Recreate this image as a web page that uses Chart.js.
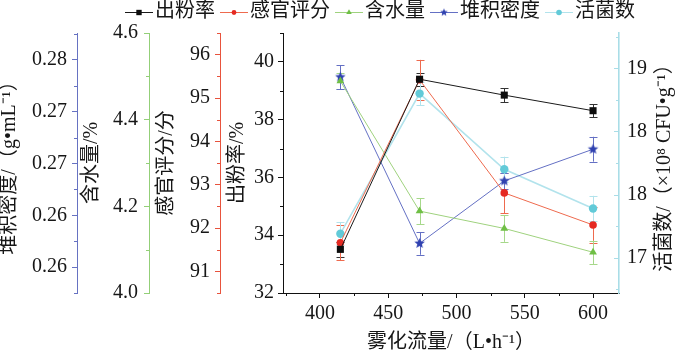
<!DOCTYPE html>
<html><head><meta charset="utf-8">
<script src="https://cdn.jsdelivr.net/npm/chart.js@4/dist/chart.umd.min.js"></script>
<style>html,body{margin:0;padding:0;background:#fff}#wrap{width:677px;height:354px}</style>
</head><body><div id="wrap"><canvas id="c" width="677" height="354"></canvas></div>
<script>
// ---------- data ----------
const flowRates   = [415, 473, 535, 600];
const yieldRate   = [33.51, 39.40, 38.85, 38.31];
const yieldErr    = [0.25, 0.22, 0.24, 0.22];
const sensory     = [91.66, 95.42, 92.81, 92.07];
const sensoryErr  = [0.40, 0.46, 0.47, 0.42];
const moisture    = [4.489, 4.189, 4.149, 4.094];
const moistureErr = [0.018, 0.030, 0.031, 0.027];
const density     = [0.27835, 0.26229, 0.26832, 0.27138];
const densityErr  = [0.00116, 0.0011, 0.0008, 0.0012];
const viable      = [17.69, 18.80, 18.20, 17.89];
const viableErr   = [0.09, 0.09, 0.10, 0.10];

const seriesNames = ['出粉率', '感官评分', '含水量', '堆积密度', '活菌数'];

const xTicks = [400, 450, 500, 550, 600];
const xTickLabels = ['400', '450', '500', '550', '600'];
const yieldTicks = [32, 34, 36, 38, 40];
const yieldTickLabels = ['32', '34', '36', '38', '40'];
const sensoryTicks = [91, 92, 93, 94, 95, 96];
const sensoryTickLabels = ['91', '92', '93', '94', '95', '96'];
const moistureTicks = [4.0, 4.2, 4.4, 4.6];
const moistureTickLabels = ['4.0', '4.2', '4.4', '4.6'];
const densityTicks = [0.26, 0.265, 0.27, 0.275, 0.28];
const densityTickLabels = ['0.26', '0.26', '0.27', '0.27', '0.28'];
const viableTicks = [17.5, 18, 18.5, 19];
const viableTickLabels = ['17', '18', '18', '19'];

const xTitle = '雾化流量/（L•h⁻¹）';
const yieldTitle = '出粉率/%';
const sensoryTitle = '感官评分/分';
const moistureTitle = '含水量/%';
const densityTitle = '堆积密度/（g•mL⁻¹）';
const viableTitle = '活菌数/（×10⁸ CFU•g⁻¹）';

// ---------- styling ----------
const FONT = '"Liberation Serif", "Noto Sans CJK SC", serif';
const tickFont = {family: FONT, size: 20, lineHeight: 1.2};
const titleFont = {family: FONT, size: 20, lineHeight: 1};
const TXT = '#161616';

function starImage(color, r) {
  const c = document.createElement('canvas');
  const s = Math.ceil(r * 2 + 2);
  c.width = s; c.height = s;
  const g = c.getContext('2d');
  g.fillStyle = color;
  g.beginPath();
  for (let k = 0; k < 10; k++) {
    const a = -Math.PI / 2 + k * Math.PI / 5;
    const rr = k % 2 === 0 ? r : r * 0.45;
    const px = s / 2 + rr * Math.cos(a), py = s / 2 + rr * Math.sin(a);
    if (k === 0) g.moveTo(px, py); else g.lineTo(px, py);
  }
  g.closePath(); g.fill();
  return c;
}
const starBig = starImage('#3042b0', 5.5);
const starSmall = starImage('#3042b0', 4);

function pts(ys) { return flowRates.map((x, i) => ({x: x, y: ys[i]})); }

function labelFor(ticks, labels) {
  return function (v) {
    for (let i = 0; i < ticks.length; i++) if (Math.abs(ticks[i] - v) < 1e-9) return labels[i];
    return '';
  };
}

function yAxis(o) {
  return {
    type: 'linear', position: o.position, min: o.min, max: o.max, weight: o.weight,
    afterBuildTicks: s => { s.ticks = o.ticks.map(v => ({value: v})); },
    afterFit: s => { s.width = o.width; },
    ticks: {callback: labelFor(o.ticks, o.labels), padding: o.pad, color: TXT, font: tickFont, autoSkip: false, maxRotation: 0},
    grid: {drawOnChartArea: false, drawTicks: o.drawTicks !== false, color: o.color, tickLength: 5, lineWidth: 1},
    border: {color: o.color, width: o.borderWidth || 1},
    title: {display: !!o.title, text: o.title || '', font: titleFont, color: TXT, padding: {top: o.titlePad || 0, bottom: 0}},
    minor: o.minor, axisColor: o.color
  };
}

const datasets = [
  {label: seriesNames[0], data: pts(yieldRate), errors: yieldErr, yAxisID: 'yYield',
   borderColor: '#1a1a1a', backgroundColor: '#111', borderWidth: 1, errColor: '#333',
   pointStyle: 'rect', pointRadius: 5, pointBorderWidth: 0, pointBackgroundColor: '#0d0d0d', legendRadius: 3.8},
  {label: seriesNames[1], data: pts(sensory), errors: sensoryErr, yAxisID: 'ySensory',
   borderColor: '#ee6a4e', backgroundColor: '#e52a22', borderWidth: 1, errColor: '#ee6a4e',
   pointStyle: 'circle', pointRadius: 3.8, pointBorderWidth: 0, pointBackgroundColor: '#e52a22', legendRadius: 2.4},
  {label: seriesNames[2], data: pts(moisture), errors: moistureErr, yAxisID: 'yMoisture',
   borderColor: '#9fd27e', backgroundColor: '#6fbf45', borderWidth: 1, errColor: '#a6d88a',
   pointStyle: 'triangle', pointRadius: 4.5, pointBorderWidth: 0, pointBackgroundColor: '#6fbf45', legendRadius: 3.2},
  {label: seriesNames[3], data: pts(density), errors: densityErr, yAxisID: 'yDensity',
   borderColor: '#6470c4', backgroundColor: '#3042b0', borderWidth: 1, errColor: '#6470c4',
   pointStyle: starBig, pointRadius: 5, pointBorderWidth: 0, pointBackgroundColor: '#3042b0', legendImage: starSmall},
  {label: seriesNames[4], data: pts(viable), errors: viableErr, yAxisID: 'yViable',
   borderColor: '#b2e3ec', backgroundColor: '#62cad8', borderWidth: 1.6, errColor: '#b2e3ec',
   pointStyle: 'circle', pointRadius: 4.2, pointBorderWidth: 0, pointBackgroundColor: '#62cad8', legendRadius: 2.8}
];

function minorValues(ticks, min, max) {
  const step = ticks[1] - ticks[0];
  const out = [];
  for (let k = -20; k <= 20; k++) {
    const v = ticks[0] + step * (k + 0.5);
    if (v >= min - 1e-9 && v <= max + 1e-9) out.push(v);
  }
  return out;
}

const scales = {
  x: {
    type: 'linear', position: 'bottom', min: 373, max: 619,
    afterBuildTicks: s => { s.ticks = xTicks.map(v => ({value: v})); },
    afterFit: s => { s.height = 61; },
    ticks: {callback: labelFor(xTicks, xTickLabels), padding: 4, color: TXT, font: tickFont, autoSkip: false, maxRotation: 0},
    grid: {drawOnChartArea: false, color: '#111', tickLength: 5},
    border: {color: '#111', width: 1},
    title: {display: true, text: xTitle, font: titleFont, color: TXT, padding: {top: 0, bottom: 1}},
    minor: true, axisColor: '#111'
  },
  yDensity: yAxis({position: 'left', min: 0.2575, max: 0.2826, weight: 4, ticks: densityTicks, labels: densityTickLabels,
    width: 77, pad: 5, color: '#6672c2', title: densityTitle, titlePad: 0, minor: true}),
  yMoisture: yAxis({position: 'left', min: 4.0, max: 4.6, weight: 3, ticks: moistureTicks, labels: moistureTickLabels,
    width: 72, pad: 6, color: '#93cf78', title: moistureTitle, titlePad: 5, minor: true}),
  ySensory: yAxis({position: 'left', min: 90.5, max: 96.5, weight: 2, ticks: sensoryTicks, labels: sensoryTickLabels,
    width: 71, pad: 5, color: '#e8533d', title: sensoryTitle, titlePad: 8, minor: true}),
  yYield: yAxis({position: 'left', min: 32, max: 41, weight: 1, ticks: yieldTicks, labels: yieldTickLabels,
    width: 63, pad: 4, color: '#111', title: yieldTitle, titlePad: 8, minor: true}),
  yViable: yAxis({position: 'right', min: 17.22, max: 19.28, weight: 1, ticks: viableTicks, labels: viableTickLabels,
    width: 58, pad: 8, color: '#a9dde7', title: '', drawTicks: false, borderWidth: 1.6, minor: true})
};

const errorBarPlugin = {
  id: 'errorBars',
  beforeDatasetsDraw(chart) {
    const ctx = chart.ctx;
    ctx.save();
    chart.data.datasets.forEach((ds, i) => {
      const meta = chart.getDatasetMeta(i);
      const ys = chart.scales[ds.yAxisID];
      ctx.strokeStyle = ds.errColor; ctx.lineWidth = 1;
      meta.data.forEach((el, j) => {
        const v = ds.data[j].y, e = ds.errors[j];
        const t = ys.getPixelForValue(v + e), b = ys.getPixelForValue(v - e);
        const x = Math.round(el.x) + 0.5;
        ctx.beginPath();
        ctx.moveTo(x, t); ctx.lineTo(x, b);
        ctx.moveTo(x - 4, Math.round(t) + 0.5); ctx.lineTo(x + 4, Math.round(t) + 0.5);
        ctx.moveTo(x - 4, Math.round(b) + 0.5); ctx.lineTo(x + 4, Math.round(b) + 0.5);
        ctx.stroke();
      });
    });
    ctx.restore();
  }
};

const decorPlugin = {
  id: 'decor',
  afterDraw(chart) {
    const ctx = chart.ctx;
    const area = chart.chartArea;
    ctx.save();
    // minor ticks + inward major ticks for right axis
    Object.values(chart.scales).forEach(s => {
      const o = s.options;
      if (!o.minor) return;
      const majors = s.ticks.map(t => t.value);
      const minors = minorValues(majors, s.min, s.max);
      ctx.strokeStyle = o.axisColor; ctx.lineWidth = 1;
      ctx.beginPath();
      if (s.isHorizontal()) {
        minors.forEach(v => { const p = Math.round(s.getPixelForValue(v)) + 0.5; ctx.moveTo(p, s.top); ctx.lineTo(p, s.top + 3); });
      } else if (o.position === 'left') {
        minors.forEach(v => { const p = Math.round(s.getPixelForValue(v)) + 0.5; ctx.moveTo(s.right, p); ctx.lineTo(s.right - 3, p); });
      } else {
        minors.forEach(v => { const p = Math.round(s.getPixelForValue(v)) + 0.5; ctx.moveTo(s.left, p); ctx.lineTo(s.left - 3, p); });
        majors.forEach(v => { const p = Math.round(s.getPixelForValue(v)) + 0.5; ctx.moveTo(s.left, p); ctx.lineTo(s.left - 5, p); });
      }
      ctx.stroke();
    });
    // right axis title (reads bottom to top)
    const sv = chart.scales.yViable;
    ctx.fillStyle = TXT;
    ctx.font = '20px ' + FONT;
    ctx.textAlign = 'center'; ctx.textBaseline = 'middle';
    ctx.translate(sv.right - 12, (area.top + area.bottom) / 2);
    ctx.rotate(-Math.PI / 2);
    ctx.fillText(viableTitle, 0, 0);
    ctx.restore();

    // legend
    ctx.save();
    ctx.font = '20px ' + FONT;
    ctx.textBaseline = 'middle'; ctx.textAlign = 'left';
    let x = 125; const y = 12;
    chart.data.datasets.forEach(ds => {
      ctx.strokeStyle = ds.borderColor; ctx.lineWidth = 1;
      ctx.beginPath(); ctx.moveTo(x, y + 0.5); ctx.lineTo(x + 28, y + 0.5); ctx.stroke();
      ctx.fillStyle = ds.pointBackgroundColor;
      if (ds.legendImage) {
        ctx.drawImage(ds.legendImage, x + 14 - ds.legendImage.width / 2, y + 0.5 - ds.legendImage.height / 2);
      } else {
        Chart.helpers.drawPoint(ctx, {pointStyle: ds.pointStyle, radius: ds.legendRadius, rotation: 0, borderWidth: 0}, x + 14, y + 0.5);
      }
      ctx.fillStyle = TXT;
      ctx.fillText(ds.label, x + 30, y);
      x += 30 + ctx.measureText(ds.label).width + 5;
    });
    ctx.restore();
  }
};

new Chart(document.getElementById('c'), {
  type: 'line',
  data: {datasets: datasets},
  options: {
    responsive: false, animation: false, devicePixelRatio: 1,
    layout: {padding: {top: 33, left: 0, right: 0, bottom: 0}},
    plugins: {legend: {display: false}, tooltip: {enabled: false}},
    elements: {line: {tension: 0}},
    scales: scales
  },
  plugins: [errorBarPlugin, decorPlugin]
});
</script>
</body></html>
